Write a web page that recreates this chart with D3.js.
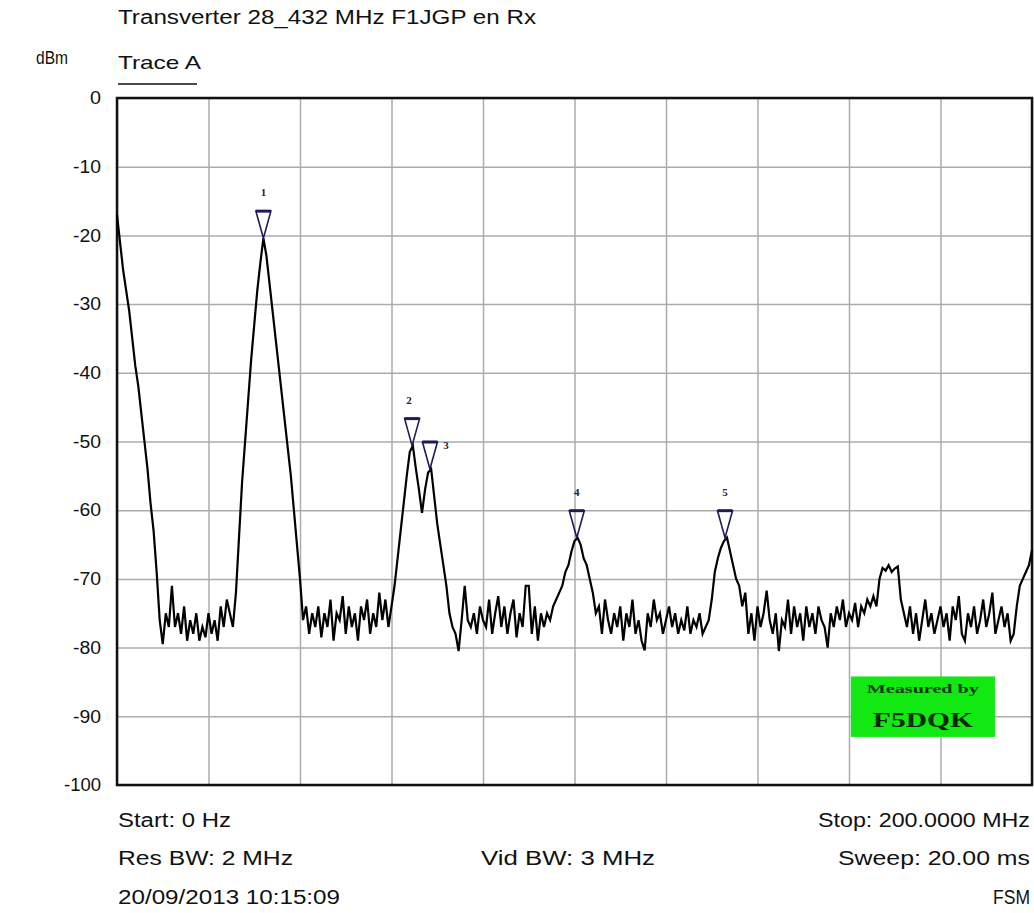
<!DOCTYPE html>
<html>
<head>
<meta charset="utf-8">
<script src="https://cdn.jsdelivr.net/npm/d3@7"></script>
<style>
  html,body{margin:0;padding:0;background:#fff;}
  svg{display:block;}
</style>
</head>
<body>
<svg id="chart" width="1034" height="913"></svg>
<script>
// ---- data ----
const sweepStartMHz = 0;
const sweepStopMHz = 200;
const yTicks = [0,-10,-20,-30,-40,-50,-60,-70,-80,-90,-100];
const xGridMHz = [0,20,40,60,80,100,120,140,160,180,200];
// Trace A, 301 sweep points (dBm)
const traceA = [
-17,-21,-25,-28,-31,-35,-39,-42,-46,-50,-54,-59,-63,-69,-76,
-79.5,-75,-77,-71,-77,-75,-78,-74,-79,-76,-78,-75,-79,-77,-78.5,-75,-78,-76,-79,-74,-77,-73,-75,-77,
-72,-64,-56,-50,-44,-38,-33,-28,-24,-20.4,
-23,-27,-31,-35,-39,-43,-47,-51,-55,-60,-65,-70,-76,
-74,-78,-75,-77,-74,-78.5,-75,-77,-73,-79,-75,-76,-72.5,-78,-74,-77,-75,-79,-74,-76,-73,-78,-75,-77,-72,-76,-73,-77,
-74,-71,-67,-63,-59,-55,-51.5,-50.6,-54,-57,-60.4,-57,-54.5,-54,-58,-62,-65,-68,-71,-75,
-77,-78,-80.5,-76,-71,-76,-77,-75,-78,-74,-76,-77,-73,-78,-75,-72.5,-77,-74,-78,-75,-73,-78.5,-75,-77,-71,-71,-78,-74,-79,-75,-77,-75,-76,
-74,-73,-72,-71,-69,-68,-66,-64.5,-64,-65,-67,-68,-70,-72,-75,
-74,-78,-73,-76,-78,-75,-77,-74,-79,-75,-77,-73,-78,-76,-79,-80.4,-75,-77,-73,-76,-75,-78,-76,-74,-77,-75,-78,-76,-77.5,-74,-78,-76,-77,-75,-78,-77,-76,
-73,-69,-67,-65.5,-64.5,-64,-66,-68,-70,-71,-74,
-72,-78,-75,-79,-74,-77,-75,-71.7,-76,-78,-75,-80.5,-76,-77,-73,-78,-74,-77,-75,-79,-74,-77,-75,-78,-74,-76,-77,-80,-75,-77,-74,-76,-73,-77,-75,-76,-73.5,-77,-74,-75,-73,-74,-72.5,-74,
-70,-68.4,-68.8,-68,-69,-68.5,-68.2,-73,
-75,-77,-74,-78,-75,-79,-76,-73,-77,-75,-78,-76,-74,-77,-75,-79,-74,-76,-72.5,-78,-79,-75,-77,-74,-78,-76,-73,-77,-75,-72,-78,-76,-74,-77,-75,-79,
-78,-74,-71,-70,-69,-68,-65.8
];
const markerIds = ["1","2","3","4","5"];
const markerMHz = [32.0, 64.5, 68.4, 100.5, 132.9];
const markerDbm = [-20.4, -50.6, -54.0, -64.0, -64.0];
const markerLabelDx = [0, -3, 16, 0, 0];
const markerLabelDy = [0, 0, 22, 0, 0];

const title = "Transverter 28_432 MHz F1JGP en Rx";
const infoLeft = ["Start: 0 Hz","Res BW: 2 MHz","20/09/2013 10:15:09"];
const infoMid = ["","Vid BW: 3 MHz",""];
const infoRight = ["Stop: 200.0000 MHz","Sweep: 20.00 ms","FSM"];

// ---- layout ----
const SANS = "'Liberation Sans',Arial,sans-serif";
const SERIF = "'Liberation Serif','DejaVu Serif',serif";
const L=117, R=1032, T=98, B=785;
const svg = d3.select("#chart");
const x = d3.scaleLinear().domain([sweepStartMHz, sweepStopMHz]).range([L,R]);
const y = d3.scaleLinear().domain([-100,0]).range([B,T]);

// horizontal grid + y labels
const yAxis = d3.axisLeft(y).tickValues(yTicks).tickSize(-(R-L)).tickPadding(16).tickFormat(d=>String(d));
const gy = svg.append("g").attr("transform",`translate(${L},0)`).call(yAxis);
gy.select(".domain").remove();
gy.selectAll(".tick line").attr("stroke","#ababab").attr("stroke-width",1.5);
gy.selectAll(".tick text").attr("font-size",18).attr("fill","#111")
  .attr("font-family",SANS).each(function(){
    const n = this.textContent.length;
    d3.select(this).attr("textLength", n===1?11:(n===3?28:37)).attr("lengthAdjust","spacingAndGlyphs");
  });

// vertical grid
const xAxis = d3.axisBottom(x).tickValues(xGridMHz).tickSize(-(B-T)).tickFormat("");
const gx = svg.append("g").attr("transform",`translate(0,${B})`).call(xAxis);
gx.select(".domain").remove();
gx.selectAll(".tick line").attr("stroke","#ababab").attr("stroke-width",1.5);

// frame
svg.append("rect").attr("x",L).attr("y",T).attr("width",R-L).attr("height",B-T)
  .attr("fill","none").attr("stroke","#111").attr("stroke-width",2.5);

// green badge
const bx0 = x(160.4), bx1 = x(191.9), by0 = y(-84.2), by1 = y(-93);
svg.append("rect").attr("x",bx0).attr("y",by0).attr("width",bx1-bx0).attr("height",by1-by0)
  .attr("fill","#12e812");
svg.append("text").attr("x",(bx0+bx1)/2).attr("y",by0+17).attr("text-anchor","middle")
  .attr("font-family",SERIF).attr("font-weight","bold").attr("font-size",13)
  .attr("textLength",112).attr("lengthAdjust","spacingAndGlyphs")
  .attr("fill","#0b3d0b").text("Measured by");
svg.append("text").attr("x",(bx0+bx1)/2).attr("y",by0+51).attr("text-anchor","middle")
  .attr("font-family",SERIF).attr("font-weight","bold").attr("font-size",22)
  .attr("textLength",100).attr("lengthAdjust","spacingAndGlyphs")
  .attr("fill","#062a06").text("F5DQK");

// trace
const step = (sweepStopMHz - sweepStartMHz)/(traceA.length-1);
const line = d3.line().x((d,i)=>x(sweepStartMHz + i*step)).y(d=>y(d));
svg.append("path").datum(traceA).attr("d",line)
  .attr("fill","none").attr("stroke","#000").attr("stroke-width",2.2).attr("stroke-linejoin","miter");

// markers
markerMHz.forEach((f,i)=>{
  const px = x(f), py = y(markerDbm[i]);
  const w = 7.5, h = 27;
  svg.append("path")
    .attr("d",`M${px-w},${py-h}L${px+w},${py-h}L${px},${py}Z`)
    .attr("fill","none").attr("stroke","#1c1c5a").attr("stroke-width",1.6);
  svg.append("line").attr("x1",px-w).attr("x2",px+w).attr("y1",py-h).attr("y2",py-h)
    .attr("stroke","#1c1c5a").attr("stroke-width",3);
  svg.append("text").attr("x",px+markerLabelDx[i]).attr("y",py-h-15+markerLabelDy[i])
    .attr("text-anchor","middle").attr("font-size",11).attr("font-weight","bold")
    .attr("font-family",SERIF).attr("fill","#1c1c3a").text(markerIds[i]);
});

// header texts
function txt(s, xx, yy, size, anchor, len){
  const t = svg.append("text").attr("x",xx).attr("y",yy).attr("font-size",size)
    .attr("font-family",SANS).attr("fill","#111")
    .attr("text-anchor",anchor||"start").attr("dominant-baseline","central").text(s);
  if(len) t.attr("textLength",len).attr("lengthAdjust","spacingAndGlyphs");
  return t;
}
txt(title, 118, 17, 20, "start", 418);
txt("dBm", 36, 58, 18, "start", 32);
txt("Trace A", 118, 62, 19, "start", 83);
svg.append("line").attr("x1",118).attr("x2",197).attr("y1",84).attr("y2",84)
  .attr("stroke","#111").attr("stroke-width",1.5);

// footer texts
const rowsY = [820, 858, 897];
const leftLens = [113, 175, 222];
const midLens = [0, 174, 0];
const rightLens = [212, 192, 37];
infoLeft.forEach((s,i)=>{ if(s) txt(s, 118, rowsY[i], 19.5, "start", leftLens[i]); });
infoMid.forEach((s,i)=>{ if(s) txt(s, 481, rowsY[i], 19.5, "start", midLens[i]); });
infoRight.forEach((s,i)=>{ if(s) txt(s, 1030, rowsY[i], 19.5, "end", rightLens[i]); });
</script>
</body>
</html>
